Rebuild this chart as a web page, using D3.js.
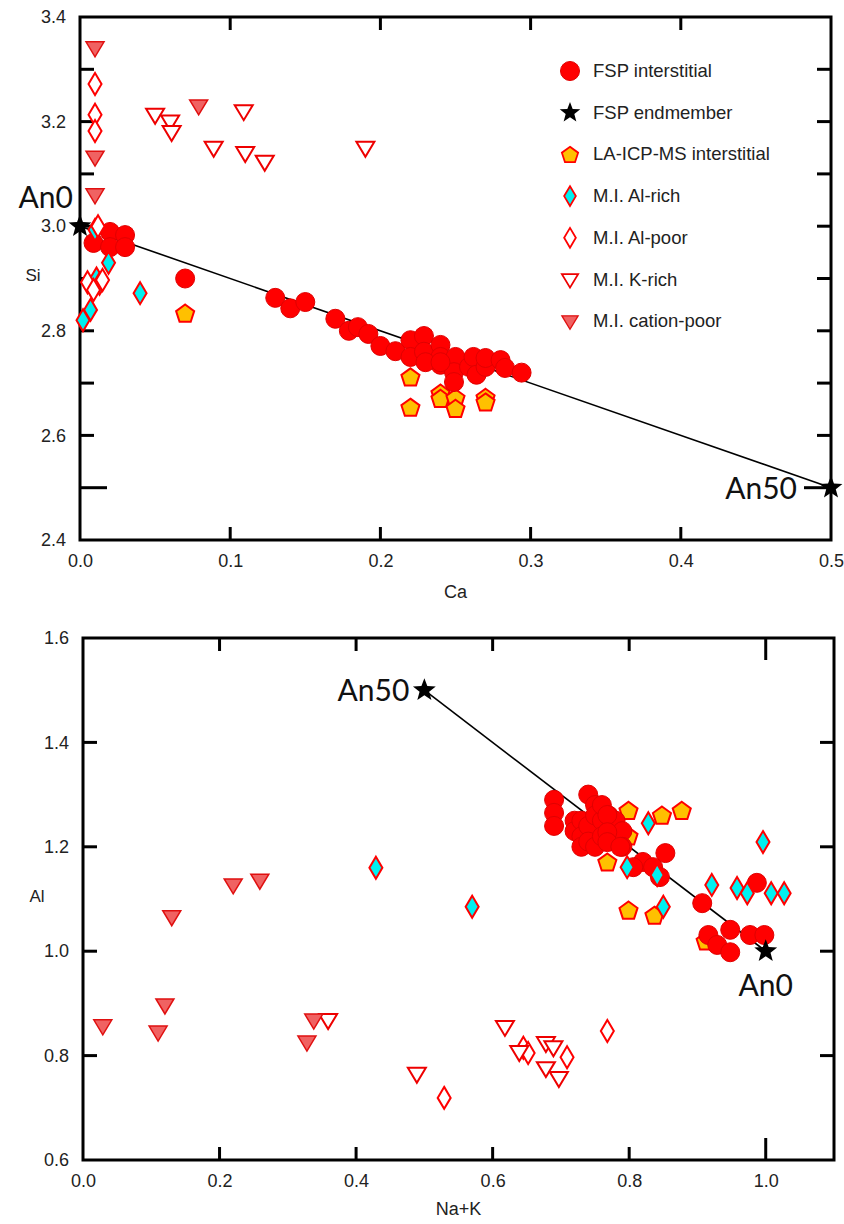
<!DOCTYPE html>
<html><head><meta charset="utf-8">
<script src="https://cdn.jsdelivr.net/npm/d3@7"></script>
<style>body{margin:0;background:#fff}svg{display:block}</style>
</head><body>
<svg id="c" width="844" height="1224"></svg>
<script>
// ---------- Top plot data: [Ca, Si] ----------
const topFSP = [[0.02,2.989],[0.03,2.983],[0.009,2.968],[0.02,2.96],[0.03,2.96],[0.07,2.90],
 [0.13,2.863],[0.14,2.843],[0.15,2.855],[0.17,2.823],[0.179,2.80],[0.185,2.807],[0.192,2.794],
 [0.20,2.771],[0.21,2.761],[0.22,2.782],[0.22,2.75],[0.229,2.79],[0.229,2.76],[0.24,2.773],
 [0.24,2.75],[0.24,2.735],[0.25,2.75],[0.249,2.721],[0.249,2.702],[0.259,2.731],[0.262,2.75],
 [0.264,2.716],[0.27,2.731],[0.27,2.748],[0.28,2.744],[0.283,2.729],[0.294,2.72],[0.23,2.74],[0.24,2.74]];
const topEnd = [[0.0,3.0],[0.5,2.5]];
const topLA = [[0.07,2.834],[0.22,2.712],[0.22,2.654],[0.24,2.681],[0.24,2.671],[0.25,2.672],[0.25,2.652],[0.27,2.673],[0.27,2.664]];
const topAlRich = [[0.01,2.993],[0.019,2.93],[0.011,2.90],[0.013,2.89],[0.007,2.84],[0.002,2.82],[0.04,2.872]];
const topAlPoor = [[0.01,3.272],[0.01,3.213],[0.01,3.182],[0.005,2.893],[0.009,2.878],[0.015,2.897],[0.012,3.0]];
const topKRich = [[0.05,3.213],[0.06,3.20],[0.061,3.18],[0.089,3.15],[0.109,3.22],[0.11,3.14],[0.123,3.123],[0.19,3.15]];
const topCatPoor = [[0.01,3.341],[0.01,3.132],[0.01,3.06],[0.079,3.23]];
const topLine = [[0.0,3.0],[0.5,2.5]];
const topXTicks = [0,0.1,0.2,0.3,0.4,0.5];
const topYTicks = [2.4,2.6,2.8,3.0,3.2,3.4];

// ---------- Bottom plot data: [Na+K, Al] ----------
const botFSP = [[0.69,1.29],[0.69,1.265],[0.69,1.24],[0.72,1.25],[0.72,1.23],[0.73,1.25],[0.73,1.22],
 [0.73,1.20],[0.74,1.30],[0.74,1.24],[0.74,1.21],[0.75,1.28],[0.75,1.26],[0.75,1.20],[0.76,1.25],
 [0.76,1.22],[0.76,1.28],[0.77,1.26],[0.77,1.23],[0.78,1.25],[0.79,1.23],[0.79,1.20],
 [0.768,1.261],[0.768,1.228],[0.768,1.209],[0.787,1.20],[0.853,1.188],[0.82,1.171],[0.806,1.161],
 [0.835,1.161],[0.845,1.142],[0.907,1.092],[0.987,1.131],[0.916,1.031],[0.948,1.041],[0.929,1.012],
 [0.948,0.998],[0.977,1.031],[0.998,1.031]];
const botEnd = [[0.5,1.5],[1.0,1.0]];
const botLA = [[0.799,1.27],[0.848,1.261],[0.877,1.27],[0.799,1.221],[0.768,1.171],[0.799,1.079],[0.837,1.069],[0.912,1.02]];
const botAlRich = [[0.429,1.16],[0.57,1.085],[0.828,1.245],[0.996,1.209],[0.797,1.161],[0.841,1.146],[0.85,1.085],
 [0.921,1.127],[0.958,1.121],[0.973,1.111],[1.008,1.111],[1.027,1.111]];
const botAlPoor = [[0.529,0.719],[0.645,0.815],[0.652,0.805],[0.709,0.797],[0.768,0.847]];
const botKRich = [[0.359,0.868],[0.489,0.765],[0.618,0.855],[0.639,0.807],[0.678,0.824],[0.689,0.816],[0.678,0.776],[0.697,0.757]];
const botCatPoor = [[0.029,0.857],[0.11,0.845],[0.12,0.897],[0.13,1.066],[0.22,1.127],[0.259,1.136],[0.328,0.826],[0.338,0.868]];
const botLine = [[0.5,1.5],[1.0,1.0]];
const botXTicks = [0,0.2,0.4,0.6,0.8,1.0];
const botYTicks = [0.6,0.8,1.0,1.2,1.4,1.6];

const legendLabels = ["FSP interstitial","FSP endmember","LA-ICP-MS interstitial","M.I. Al-rich","M.I. Al-poor","M.I. K-rich","M.I. cation-poor"];

// ---------- symbols ----------
const svg = d3.select("#c");
const FONT = "Arial, 'Liberation Sans', sans-serif";
const NARROW = "'Liberation Sans Narrow', 'Arial Narrow', Arial, sans-serif";
const ANN = "Lato, 'Open Sans', sans-serif";
const styles = {
  fsp:   {fill:"#ff0000", stroke:"#e00000", sw:1},
  end:   {fill:"#000000", stroke:"none", sw:0},
  la:    {fill:"#ffc000", stroke:"#ff0000", sw:2},
  alr:   {fill:"#00f0f0", stroke:"#ff0000", sw:2},
  alp:   {fill:"#ffffff", stroke:"#ff0000", sw:2},
  kr:    {fill:"#ffffff", stroke:"#ee0000", sw:2},
  cp:    {fill:"#f06262", stroke:"#e01010", sw:1.5}
};
function starPath(R){ const r=R*0.42; let p=[]; for(let i=0;i<10;i++){const a=-Math.PI/2+i*Math.PI/5; const rr=i%2?r:R; p.push([rr*Math.cos(a), rr*Math.sin(a)]);} return "M"+p.join("L")+"Z"; }
function pentPath(R){ let p=[]; for(let i=0;i<5;i++){const a=-Math.PI/2+i*2*Math.PI/5; p.push([R*Math.cos(a), R*Math.sin(a)+1]);} return "M"+p.join("L")+"Z"; }
const paths = {
  fsp: "M-9.5,0A9.5,9.5 0 1,0 9.5,0A9.5,9.5 0 1,0 -9.5,0Z",
  end: starPath(12),
  la: pentPath(9.5),
  alr: "M0,-11L6.5,0L0,11L-6.5,0Z",
  alp: "M0,-11L6.5,0L0,11L-6.5,0Z",
  kr: "M-9,-6L9,-6L0,9Z",
  cp: "M-9,-6L9,-6L0,9Z"
};
function drawMarks(g, data, key, x, y){
  const s = styles[key];
  g.selectAll(null).data(data).enter().append("path")
    .attr("d", paths[key])
    .attr("transform", d=>`translate(${x(d[0])},${y(d[1])})`)
    .attr("fill", s.fill).attr("stroke", s.stroke).attr("stroke-width", s.sw)
    .attr("stroke-linejoin","miter");
}

function frame(g, x, y, xTicks, yTicks, xMinor, yMinor, xLong, yLong, fmtX, fmtY, xTitle, yTitle, yTitlePos, xTitleY){
  const [x0,x1] = x.range(), [y0,y1] = y.range();
  const tk = g.append("g").attr("stroke","#000").attr("stroke-width",3);
  xMinor.forEach(v=>{
    const L = (Math.abs(v-xLong)<1e-9)?22:13;
    tk.append("line").attr("x1",x(v)).attr("x2",x(v)).attr("y1",y0).attr("y2",y0-L);
    tk.append("line").attr("x1",x(v)).attr("x2",x(v)).attr("y1",y1).attr("y2",y1+L);
  });
  yMinor.forEach(v=>{
    const L = (Math.abs(v-yLong)<1e-9)?27:14;
    tk.append("line").attr("y1",y(v)).attr("y2",y(v)).attr("x1",x0).attr("x2",x0+L);
    tk.append("line").attr("y1",y(v)).attr("y2",y(v)).attr("x1",x1).attr("x2",x1-L);
  });
  g.append("rect").attr("x",x0).attr("y",y1).attr("width",x1-x0).attr("height",y0-y1)
    .attr("fill","none").attr("stroke","#000").attr("stroke-width",3);
  const ax = g.append("g").attr("transform",`translate(0,${y0})`)
    .call(d3.axisBottom(x).tickValues(xTicks).tickFormat(fmtX).tickSize(0).tickPadding(14));
  ax.select(".domain").remove();
  ax.attr("font-size",null).attr("font-family",null);
  ax.selectAll("text").attr("font-family",NARROW).attr("font-size",18).attr("fill","#222");
  const ay = g.append("g").attr("transform",`translate(${x0},0)`)
    .call(d3.axisLeft(y).tickValues(yTicks).tickFormat(fmtY).tickSize(0).tickPadding(14));
  ay.select(".domain").remove();
  ay.attr("font-size",null).attr("font-family",null);
  ay.selectAll("text").attr("font-family",NARROW).attr("font-size",18).attr("fill","#222");
  g.append("text").attr("x",(x0+x1)/2).attr("y",xTitleY).attr("text-anchor","middle")
    .attr("font-family",NARROW).attr("font-size",18).attr("fill","#222").text(xTitle);
  g.append("text").attr("x",yTitlePos[0]).attr("y",yTitlePos[1]).attr("text-anchor","middle").attr("dominant-baseline","middle")
    .attr("font-family",FONT).attr("font-size",17).attr("fill","#222").text(yTitle);
}

// ---------- top plot ----------
const xT = d3.scaleLinear().domain([0,0.5]).range([80,831]);
const yT = d3.scaleLinear().domain([2.4,3.4]).range([540,17]);
const gT = svg.append("g");
gT.append("path").attr("d", d3.line().x(d=>xT(d[0])).y(d=>yT(d[1]))(topLine)).attr("stroke","#000").attr("stroke-width",1.6).attr("fill","none");
frame(gT, xT, yT, topXTicks, topYTicks, [0.1,0.2,0.3,0.4], d3.range(2.5,3.35,0.1).map(v=>+v.toFixed(1)), -1, 2.5,
  d3.format(".1f"), d3.format(".1f"), "Ca", "Si", [33,277], 598);
drawMarks(gT, topLA, "la", xT, yT);
drawMarks(gT, topFSP, "fsp", xT, yT);
drawMarks(gT, topAlRich, "alr", xT, yT);
drawMarks(gT, topAlPoor, "alp", xT, yT);
drawMarks(gT, topKRich, "kr", xT, yT);
drawMarks(gT, topCatPoor, "cp", xT, yT);
drawMarks(gT, topEnd, "end", xT, yT);
gT.append("text").attr("x",xT(0)-7).attr("y",yT(3.0)-18).attr("text-anchor","end").attr("font-family",ANN).attr("font-size",30).attr("fill","#111").text("An0");
gT.append("text").attr("x",xT(0.5)-34).attr("y",yT(2.5)+11).attr("text-anchor","end").attr("font-family",ANN).attr("font-size",30).attr("fill","#111").text("An50");

// legend
const legKeys = ["fsp","end","la","alr","alp","kr","cp"];
const lg = svg.append("g");
legKeys.forEach((k,i)=>{
  const yy = 71 + i*41.7;
  const s = styles[k];
  lg.append("path").attr("d",paths[k]).attr("transform",`translate(570,${yy}) scale(${k==="fsp"?1:0.9})`)
    .attr("fill",s.fill).attr("stroke",s.stroke).attr("stroke-width",s.sw);
  lg.append("text").attr("x",593).attr("y",yy+6).attr("font-family",FONT).attr("font-size",18.5).attr("fill","#222").text(legendLabels[i]);
});

// ---------- bottom plot ----------
const xB = d3.scaleLinear().domain([0,1.1]).range([83,834]);
const yB = d3.scaleLinear().domain([0.6,1.6]).range([1160,638]);
const gB = svg.append("g");
gB.append("path").attr("d", d3.line().x(d=>xB(d[0])).y(d=>yB(d[1]))(botLine)).attr("stroke","#000").attr("stroke-width",1.6).attr("fill","none");
frame(gB, xB, yB, botXTicks, botYTicks, [0.2,0.4,0.6,0.8,1.0], [0.8,1.0,1.2,1.4], 1.0, -1,
  d3.format(".1f"), d3.format(".1f"), "Na+K", "Al", [37,898], 1215);
drawMarks(gB, botLA, "la", xB, yB);
drawMarks(gB, botFSP, "fsp", xB, yB);
drawMarks(gB, botAlRich, "alr", xB, yB);
drawMarks(gB, botAlPoor, "alp", xB, yB);
drawMarks(gB, botKRich, "kr", xB, yB);
drawMarks(gB, botCatPoor, "cp", xB, yB);
drawMarks(gB, botEnd, "end", xB, yB);
gB.append("text").attr("x",xB(0.5)-15).attr("y",yB(1.5)+11).attr("text-anchor","end").attr("font-family",ANN).attr("font-size",30).attr("fill","#111").text("An50");
gB.append("text").attr("x",xB(1.0)).attr("y",yB(1.0)+45).attr("text-anchor","middle").attr("font-family",ANN).attr("font-size",30).attr("fill","#111").text("An0");
</script>
</body></html>
